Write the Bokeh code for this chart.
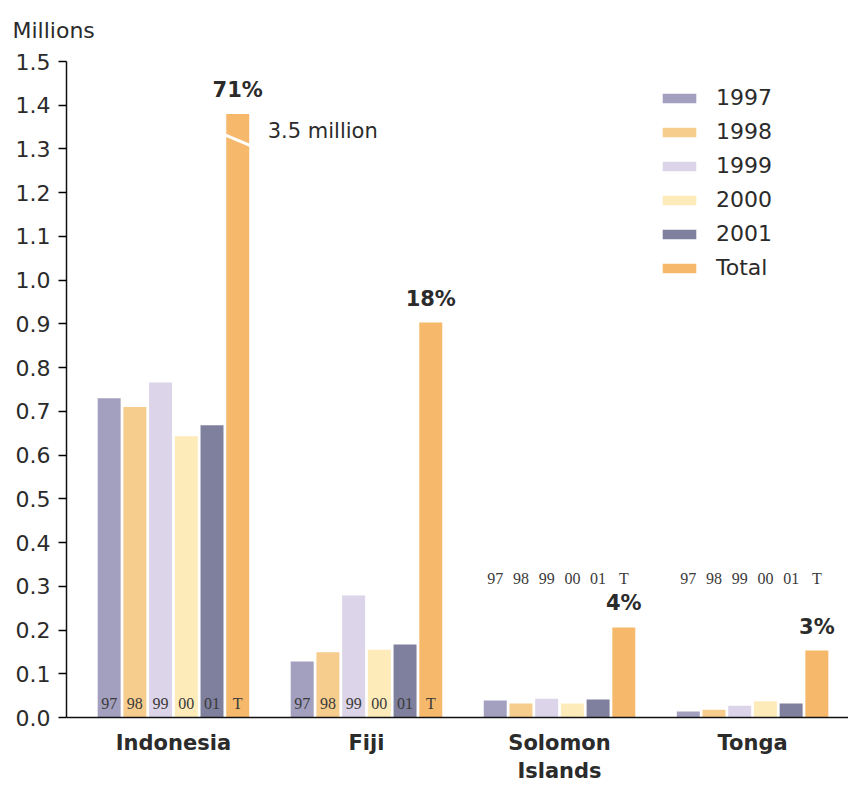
from bokeh.plotting import figure
from bokeh.models import (Range1d, FixedTicker, Legend, LegendItem,
                          ColumnDataSource, NumeralTickFormatter)
from bokeh.core.properties import value
from bokeh.embed import file_html
from bokeh.resources import INLINE

# ---------------- data ----------------
countries = ["Indonesia", "Fiji", "Solomon\nIslands", "Tonga"]
years = ["1997", "1998", "1999", "2000", "2001", "Total"]
short_years = ["97", "98", "99", "00", "01", "T"]
v1997 = [0.730, 0.128, 0.039, 0.014]
v1998 = [0.710, 0.149, 0.032, 0.018]
v1999 = [0.766, 0.279, 0.043, 0.027]
v2000 = [0.643, 0.155, 0.032, 0.037]
v2001 = [0.668, 0.167, 0.041, 0.032]
total_actual = [3.5, 0.903, 0.206, 0.153]
axis_cap = 1.38          # Indonesia total is drawn broken at this height
break_at = 1.32
shares = ["71%", "18%", "4%", "3%"]
year_label_level = [0.032, 0.032, 0.318, 0.318]
colors = ["#a29fbf", "#f7cd8e", "#dcd4e8", "#fdebb9", "#7f7f9e", "#f6b96c"]

series = [v1997, v1998, v1999, v2000, v2001,
          [min(t, axis_cap) for t in total_actual]]

FONT = "DejaVu Sans"
TXT = "#2b2b2b"

step = 0.1332
width = 0.119
offsets = [(j - 2.5) * step for j in range(6)]

p = figure(width=848, height=786, output_backend="svg", toolbar_location=None,
           x_range=Range1d(-0.554, 3.497), y_range=Range1d(0, 1.5),
           min_border_left=66, min_border_right=0, min_border_top=61,
           min_border_bottom=69, title="Millions")
p.outline_line_color = None
p.background_fill_color = "white"
p.border_fill_color = "white"
p.grid.visible = False

p.title.align = "left"
p.title.vertical_align = "top"
p.title.offset = -54
p.title.standoff = 34
p.title.text_font = FONT
p.title.text_font_size = "22px"
p.title.text_font_style = "normal"
p.title.text_color = TXT

renderers = []
for j, vals in enumerate(series):
    src = ColumnDataSource(dict(x=[i + offsets[j] for i in range(4)], top=vals))
    r = p.vbar(x="x", top="top", width=width, source=src,
               fill_color=colors[j], line_color=None)
    renderers.append(r)

# break mark on Indonesia total bar
xt = 0 + offsets[5]
p.segment(x0=[xt - width / 2 - 0.01], y0=[break_at + 0.013],
          x1=[xt + width / 2 + 0.01], y1=[break_at - 0.013],
          line_color="white", line_width=3)
p.text(x=[xt], y=[break_at], text=["%.1f million" % total_actual[0]],
       x_offset=30, y_offset=-9, text_baseline="middle", text_align="left",
       text_font=value(FONT), text_font_size="21px", text_color=TXT)

# year short labels
lx, ly, lt = [], [], []
for i in range(4):
    for j in range(6):
        lx.append(i + offsets[j])
        ly.append(year_label_level[i])
        lt.append(short_years[j])
p.text(x=lx, y=ly, text=lt, text_align="center", text_baseline="middle",
       text_font=value("Liberation Serif"), text_font_size="16px",
       text_color="#3a3a3a")

# share labels
p.text(x=[i + offsets[5] for i in range(4)], y=series[5], text=shares,
       text_align="center", text_baseline="bottom", y_offset=-12,
       text_font=value(FONT), text_font_style="bold", text_font_size="21px",
       text_color=TXT)

# axes
ya = p.yaxis[0]
ya.ticker = FixedTicker(ticks=[k / 10 for k in range(16)])
ya.formatter = NumeralTickFormatter(format="0.0")
ya.major_tick_out = 8
ya.major_tick_in = 0
ya.minor_tick_line_color = None
ya.major_label_standoff = 8
ya.major_label_text_font = FONT
ya.major_label_text_font_size = "22px"
ya.major_label_text_color = TXT
ya.axis_line_color = "#111111"
ya.axis_line_width = 1.5
ya.major_tick_line_width = 1.5

xa = p.xaxis[0]
xa.ticker = FixedTicker(ticks=[0, 1, 2, 3])
xa.major_label_overrides = {i: c for i, c in enumerate(countries)}
xa.major_tick_line_color = None
xa.major_tick_out = 0
xa.major_tick_in = 0
xa.minor_tick_line_color = None
xa.major_label_standoff = 13
xa.major_label_text_font = FONT
xa.major_label_text_font_style = "bold"
xa.major_label_text_font_size = "21px"
xa.major_label_text_color = TXT
xa.axis_line_color = "#111111"
xa.axis_line_width = 1.5

legend = Legend(items=[LegendItem(label=years[j], renderers=[renderers[j]])
                       for j in range(6)],
                location=(592, 437), glyph_width=42, glyph_height=12,
                label_height=24, spacing=9, label_standoff=16, padding=0,
                margin=0, border_line_color=None, background_fill_alpha=0,
                label_text_font=FONT, label_text_font_size="22px",
                label_text_color=TXT)
p.add_layout(legend)

open("out.html", "w").write(file_html(p, INLINE))
